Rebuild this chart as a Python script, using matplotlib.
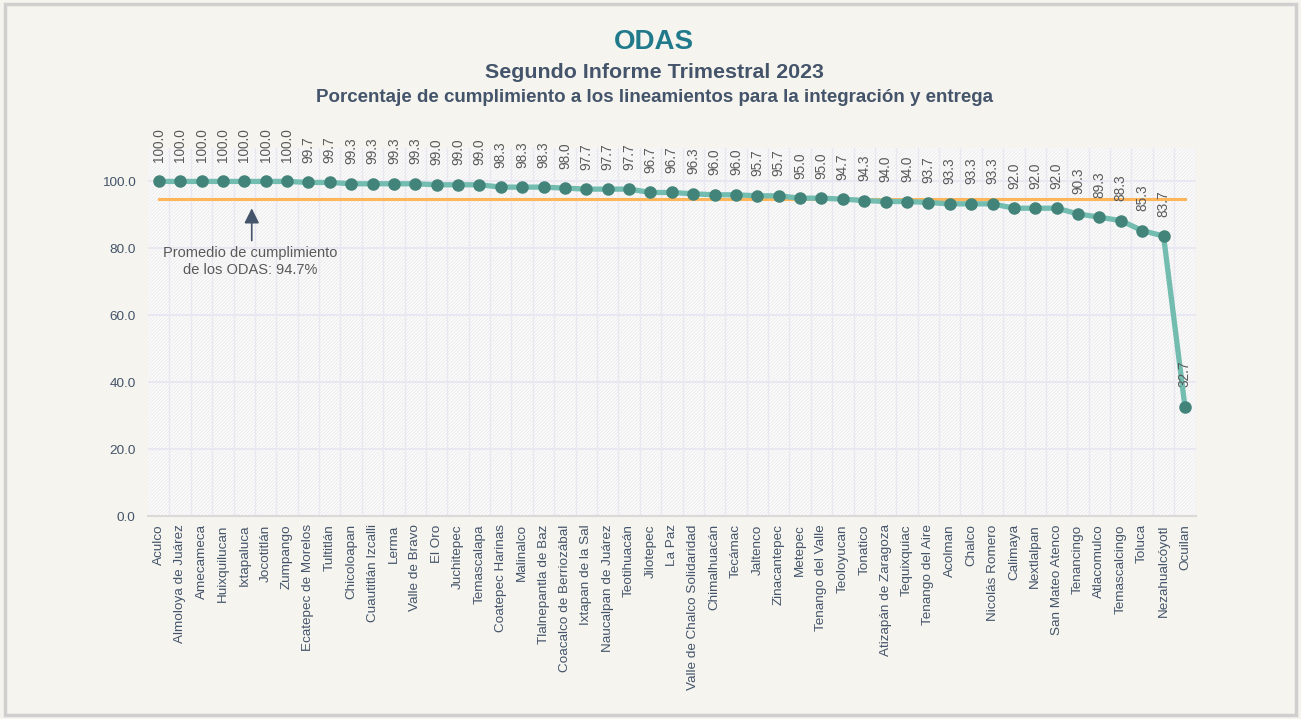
import matplotlib.pyplot as plt
from matplotlib.patches import Rectangle

plt.rcParams['font.family'] = ['Liberation Sans', 'DejaVu Sans']
plt.rcParams['hatch.linewidth'] = 1.0

municipios = ['Aculco', 'Almoloya de Juárez', 'Amecameca', 'Huixquilucan', 'Ixtapaluca',
              'Jocotitlán', 'Zumpango', 'Ecatepec de Morelos', 'Tultitlán', 'Chicoloapan',
              'Cuautitlán Izcalli', 'Lerma', 'Valle de Bravo', 'El Oro', 'Juchitepec',
              'Temascalapa', 'Coatepec Harinas', 'Malinalco', 'Tlalnepantla de Baz',
              'Coacalco de Berriozábal', 'Ixtapan de la Sal', 'Naucalpan de Juárez',
              'Teotihuacán', 'Jilotepec', 'La Paz', 'Valle de Chalco Solidaridad',
              'Chimalhuacán', 'Tecámac', 'Jaltenco', 'Zinacantepec', 'Metepec',
              'Tenango del Valle', 'Teoloyucan', 'Tonatico', 'Atizapán de Zaragoza',
              'Tequixquiac', 'Tenango del Aire', 'Acolman', 'Chalco', 'Nicolás Romero',
              'Calimaya', 'Nextlalpan', 'San Mateo Atenco', 'Tenancingo', 'Atlacomulco',
              'Temascalcingo', 'Toluca', 'Nezahualcóyotl', 'Ocuilan']
cumplimiento = [100.0, 100.0, 100.0, 100.0, 100.0, 100.0, 100.0, 99.7, 99.7, 99.3,
                99.3, 99.3, 99.3, 99.0, 99.0, 99.0, 98.3, 98.3, 98.3, 98.0,
                97.7, 97.7, 97.7, 96.7, 96.7, 96.3, 96.0, 96.0, 95.7, 95.7,
                95.0, 95.0, 94.7, 94.3, 94.0, 94.0, 93.7, 93.3, 93.3, 93.3,
                92.0, 92.0, 92.0, 90.3, 89.3, 88.3, 85.3, 83.7, 32.7]
promedio = 94.7
y_ticks = [0, 20, 40, 60, 80, 100]

gris = '#595959'
pizarra = '#44546A'

fig = plt.figure(figsize=(13.01, 7.19), dpi=100, facecolor='#F5F4EE')
ax = fig.add_axes([0.1138, 0.2823, 0.8052, 0.5119])
ax.set_facecolor('#FFFFFF')

n = len(municipios)
x = list(range(n))

# fondo rayado
fondo = Rectangle((0, 0), 1, 1, transform=ax.transAxes, facecolor='#FFFFFF',
                  edgecolor='#EFEFEF', hatch='//////////', linewidth=0, zorder=0)
ax.add_patch(fondo)

ax.set_xlim(-0.5, n - 0.5)
ax.set_ylim(0, 110)

for yt in y_ticks[1:]:
    ax.axhline(yt, color='#E6E3F0', linewidth=1.1, zorder=1)
for i in range(n):
    ax.axvline(i + 0.5, color='#E9E7F1', linewidth=1.0, zorder=1)

ax.plot([x[0], x[-1]], [promedio, promedio], color='#FFB55A', linewidth=2.2, zorder=2)
ax.plot(x, cumplimiento, color='#72BCB0', linewidth=3.8, zorder=3)
ax.plot(x, cumplimiento, 'o', color='#43847A', markersize=8, zorder=4)

for i, v in zip(x, cumplimiento):
    ax.annotate(f'{v:.1f}', (i, v), xytext=(0, 14), textcoords='offset points',
                rotation=90, ha='center', va='bottom', fontsize=9.8, color=gris,
                annotation_clip=False)

ax.annotate('', xy=(4.35, 92.8), xytext=(4.35, 81.5),
            arrowprops=dict(arrowstyle='-|>,head_length=0.9,head_width=0.45',
                            color=pizarra, linewidth=1.2))
ax.text(4.3, 80.6, 'Promedio de cumplimiento\nde los ODAS: 94.7%', ha='center', va='top',
        fontsize=10.5, color=gris, linespacing=1.25)

ax.set_xticks(x)
ax.set_xticklabels(municipios, rotation=90, fontsize=9.7, color=pizarra)
ax.set_yticks(y_ticks)
ax.set_yticklabels([f'{t:.1f}' for t in y_ticks], fontsize=9.7, color=pizarra)
ax.tick_params(axis='y', length=0, pad=9)
ax.tick_params(axis='x', length=0, pad=6)
for lado in ['top', 'right', 'left']:
    ax.spines[lado].set_visible(False)
ax.spines['bottom'].set_color('#D9D9D9')
ax.spines['bottom'].set_linewidth(1.5)

fig.text(0.5027, 0.9416, 'ODAS', ha='center', va='center', fontsize=20,
         fontweight='bold', color='#217A8C')
fig.text(0.5027, 0.899, 'Segundo Informe Trimestral 2023', ha='center', va='center',
         fontsize=15.4, fontweight='bold', color=pizarra)
fig.text(0.5027, 0.865, 'Porcentaje de cumplimiento a los lineamientos para la integración y entrega',
         ha='center', va='center', fontsize=13.5, fontweight='bold', color=pizarra)

marco = Rectangle((0.004, 0.006), 0.992, 0.988, transform=fig.transFigure, fill=False,
                  edgecolor='#CFCFCF', linewidth=2.5)
fig.patches.append(marco)

fig.savefig('out.png', dpi=100, facecolor=fig.get_facecolor())
